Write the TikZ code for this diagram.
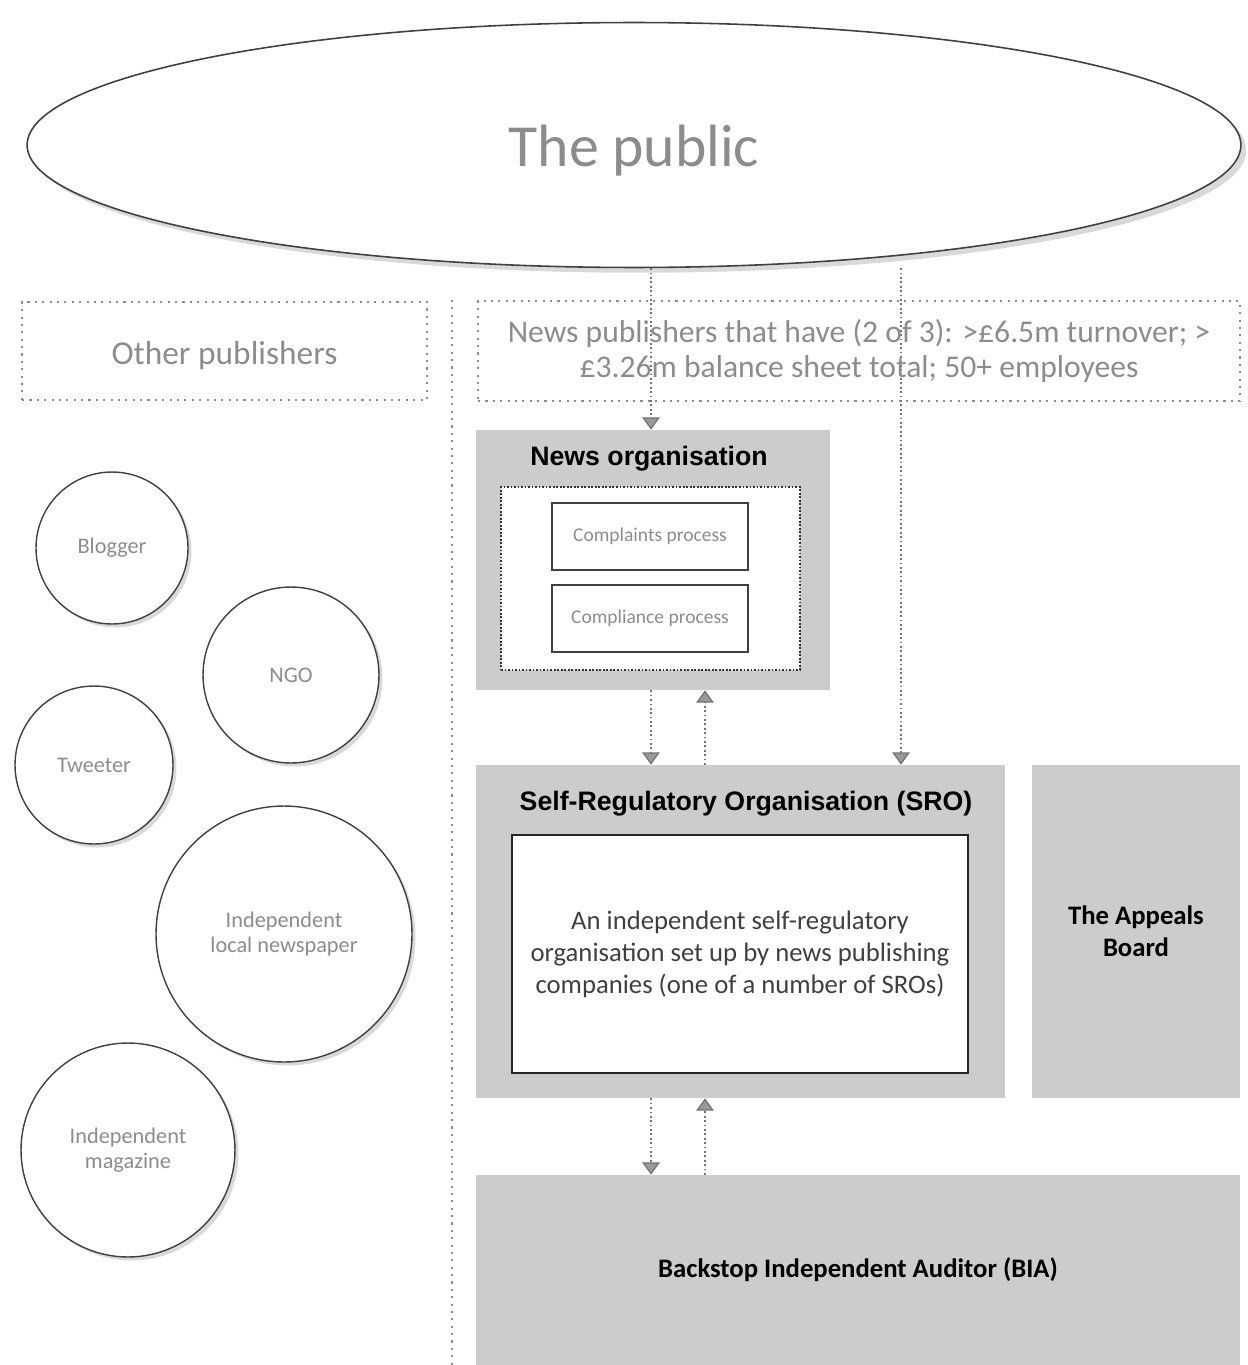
\documentclass[tikz,border=0pt]{standalone}
\usepackage{fontspec}
\setmainfont{Carlito}
\newfontfamily\arialfont{Liberation Sans}
\usetikzlibrary{arrows.meta,shadows,backgrounds,shapes.geometric}
\definecolor{shade}{gray}{0.8}
\definecolor{faint}{gray}{0.55}

\begin{document}
\begin{tikzpicture}[x=0.02cm,y=-0.02cm,
    dotbox/.style={draw=faint,dash pattern=on 1.2pt off 3pt,line width=0.8pt,inner sep=0pt},
    shadebox/.style={fill=shade,inner sep=0pt},
    whitebox/.style={fill=white,inner sep=0pt,line width=0.9pt},
    pubcircle/.style={circle,draw=black!75,fill=white,line width=0.8pt,inner sep=0pt,align=center,
        text=faint,font=\fontsize{12.7}{14.2}\selectfont,
        drop shadow={opacity=0.3,shadow xshift=2pt,shadow yshift=-2pt}},
    title/.style={font=\arialfont\bfseries\fontsize{15.2}{17}\selectfont},
    flow/.style={draw=black!55,dash pattern=on 1pt off 1.5pt,line width=0.7pt,
        -{Triangle[width=10pt,length=7pt,fill=black!40,color=black!55]}}]
    \useasboundingbox (0,0) rectangle (1247,1365);

    % Place the public on top
    \node[ellipse,draw=black!75,fill=white,line width=0.9pt,minimum width=24.28cm,minimum height=4.9cm,
        inner sep=0pt,text=faint,font=\fontsize{34}{40}\selectfont,text height=30pt,text depth=5.5pt,
        drop shadow={opacity=0.3,shadow xshift=3pt,shadow yshift=-3pt}] (pub) at (634,145) {The public};

    % Place the two kinds of publishers
    \node[dotbox,minimum width=8.1cm,minimum height=1.96cm,text=faint,text height=17pt,text depth=1.8pt,
        font=\fontsize{19}{22}\selectfont] (other) at (224.5,351) {Other publishers};
    \node[dotbox,minimum width=15.24cm,minimum height=2cm,text=faint,align=center,
        font=\fontsize{18}{20}\selectfont] (newspub) at (859,351)
        {News publishers that have (2 of 3): >£6.5m turnover; >\\£3.26m balance sheet total; 50+ employees};
    \draw[dotbox] (452,300) -- (452,1365);

    % The other publishers
    \node[pubcircle,minimum size=3.04cm] (blog) at (112,548) {Blogger};
    \node[pubcircle,minimum size=3.52cm] (ngo) at (291,675) {NGO};
    \node[pubcircle,minimum size=3.16cm] (tweet) at (94,765) {Tweeter};
    \node[pubcircle,minimum size=5.12cm] (local) at (284,934) {Independent\\local newspaper};
    \node[pubcircle,minimum size=4.28cm] (mag) at (128,1150) {Independent\\magazine};

    % The news organisation
    \node[shadebox,minimum width=7.08cm,minimum height=5.2cm] (news) at (653,560) {};
    \node[title] (newst) at (649,459) {News organisation};
    \node[whitebox,draw=black!80,dash pattern=on 1pt off 1pt,minimum width=5.98cm,minimum height=3.66cm] (inner) at (650.5,578.5) {};
    \node[whitebox,draw=black!75,minimum width=3.92cm,minimum height=1.34cm,text=faint,
        font=\fontsize{11.1}{13}\selectfont] (compl) at (650,536.5) {Complaints process};
    \node[whitebox,draw=black!75,minimum width=3.92cm,minimum height=1.34cm,text=faint,
        font=\fontsize{11.1}{13}\selectfont] (compli) at (650,618.5) {Compliance process};

    % The SRO and the appeals board
    \node[shadebox,minimum width=10.58cm,minimum height=6.66cm] (sro) at (740.5,931.5) {};
    \node[title] (srot) at (746,804) {Self-Regulatory Organisation (SRO)};
    \node[whitebox,draw=black!85,minimum width=9.12cm,minimum height=4.76cm,align=center,text=black!75,
        font=\fontsize{15.2}{18.2}\selectfont] (sroin) at (740,954)
        {An independent self-regulatory\\organisation set up by news publishing\\companies (one of a number of SROs)};
    \node[shadebox,minimum width=4.16cm,minimum height=6.66cm,align=center,
        font=\bfseries\fontsize{15.2}{18.2}\selectfont] (appeal) at (1136,931.5) {The Appeals\\Board};

    % The auditor
    \node[shadebox,minimum width=15.28cm,minimum height=3.8cm,
        font=\bfseries\fontsize{15.2}{17}\selectfont] (bia) at (858,1270) {Backstop Independent Auditor (BIA)};

    % The arrows
    \coordinate (c1) at (651,0);
    \coordinate (c2) at (705,0);
    \coordinate (c3) at (901,0);
    \begin{scope}[on background layer]
        \draw[flow] (pub.south -| c1) -- (c1 |- news.north);
        \draw[flow] (pub.south -| c3) -- (c3 |- sro.north);
    \end{scope}
    \draw[flow] (news.south -| c1) -- (c1 |- sro.north);
    \draw[flow] (sro.north -| c2) -- (c2 |- news.south);
    \draw[flow] (sro.south -| c1) -- (c1 |- bia.north);
    \draw[flow] (bia.north -| c2) -- (c2 |- sro.south);
\end{tikzpicture}
\end{document}
